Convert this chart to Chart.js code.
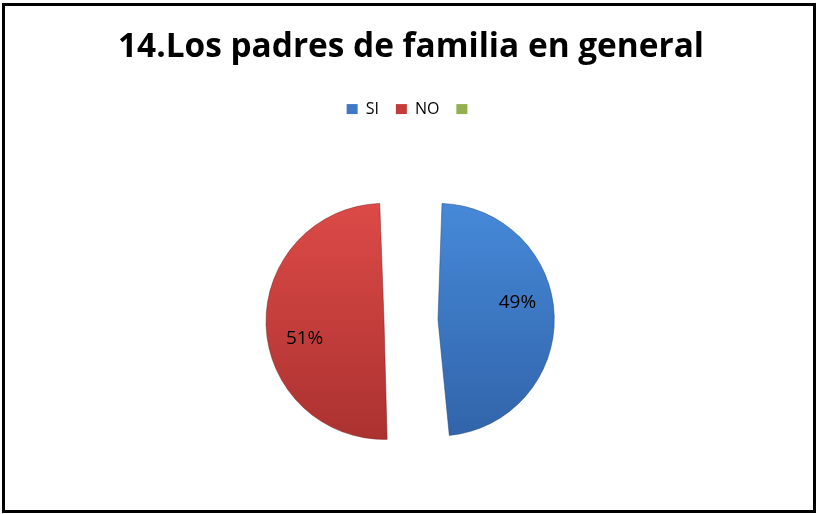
<!DOCTYPE html>
<html>
<head>
<meta charset="utf-8">
<script src="https://cdn.jsdelivr.net/npm/chart.js@4.4.0/dist/chart.umd.min.js"></script>
<style>
  html, body { margin: 0; padding: 0; background: #fff; }
  #wrap { width: 817px; height: 514px; }
</style>
</head>
<body>
<div id="wrap"><canvas id="pieChart" width="817" height="514"></canvas></div>
<script>
// data
const labels = ["SI", "NO", ""];
const percents = [49, 51, 0];
const chartTitle = "14.Los padres de familia en general";

const topColors = ["#4689d8", "#dc4a47", "#a6c761"];
const bottomColors = ["#3164aa", "#ab3230", "#7d9a3f"];
const rimColors = ["rgba(30,70,130,0.5)", "rgba(120,30,30,0.5)", "rgba(80,100,40,0.5)"];
const legendColors = ["#3f78c4", "#c43c39", "#92b04e"];

// gradient fill like the old office bevel look
function sliceFill(context) {
    const chart = context.chart;
    const i = context.dataIndex;
    const area = chart.chartArea;
    if (!area) return legendColors[i];
    const cy = (area.top + area.bottom) / 2;
    const g = chart.ctx.createLinearGradient(0, cy - 117, 0, cy + 117);
    g.addColorStop(0, topColors[i]);
    g.addColorStop(1, bottomColors[i]);
    return g;
}

// percent labels inside the slices
const pctLabels = {
    id: "pctLabels",
    afterDatasetsDraw(chart) {
        const ctx = chart.ctx;
        const arcs = chart.getDatasetMeta(0).data;
        ctx.save();
        ctx.font = "19px 'Open Sans'";
        ctx.fillStyle = "#000";
        ctx.textAlign = "center";
        ctx.textBaseline = "middle";
        arcs.forEach((arc, i) => {
            if (!percents[i]) return;
            const p = arc.getProps(["x", "y", "startAngle", "endAngle", "outerRadius"], true);
            const a = (p.startAngle + p.endAngle) / 2 - 8 * Math.PI / 180;
            // arc draw grows the radius by offset/4 when exploded
            const r = (p.outerRadius + arc.options.offset / 4) * 0.915;
            ctx.fillText(percents[i] + "%", p.x + Math.cos(a) * r, p.y + Math.sin(a) * r);
        });
        ctx.restore();
    }
};

// black frame round the chart
const frame = {
    id: "frame",
    afterDraw(chart) {
        const ctx = chart.ctx;
        ctx.save();
        ctx.strokeStyle = "#000";
        ctx.lineWidth = 3;
        ctx.strokeRect(3.5, 4.5, 811, 507);
        ctx.restore();
    }
};

new Chart(document.getElementById("pieChart"), {
    type: "pie",
    data: {
        labels: labels,
        datasets: [{
            data: percents,
            backgroundColor: sliceFill,
            borderColor: rimColors,
            borderWidth: 1,
            offset: 108
        }]
    },
    options: {
        responsive: false,
        animation: false,
        radius: 91,
        layout: { padding: { top: 6, left: 5, right: 0, bottom: -3 } },
        plugins: {
            title: {
                display: true,
                text: chartTitle,
                color: "#000",
                font: { family: "'Open Sans'", size: 33.4, weight: "bold" },
                padding: { top: 21, bottom: 17 }
            },
            legend: {
                position: "top",
                labels: {
                    color: "#000",
                    font: { family: "'Open Sans'", size: 16 },
                    boxWidth: 11,
                    boxHeight: 10,
                    padding: 17,
                    generateLabels(chart) {
                        return labels.map((l, i) => ({
                            text: l,
                            fillStyle: legendColors[i],
                            strokeStyle: legendColors[i],
                            lineWidth: 0,
                            index: i
                        }));
                    }
                }
            },
            tooltip: { enabled: false }
        }
    },
    plugins: [pctLabels, frame]
});
</script>
</body>
</html>
